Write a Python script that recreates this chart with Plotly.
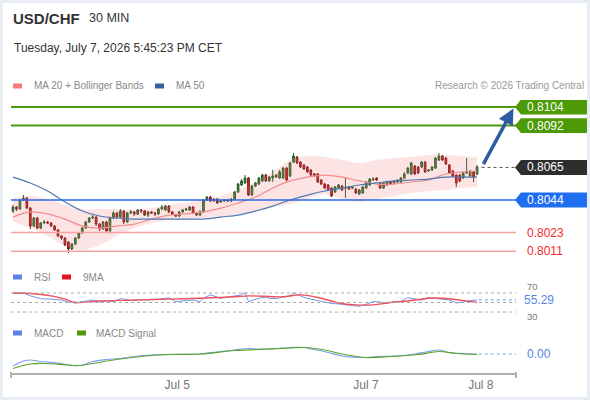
import plotly.graph_objects as go

# ---------------- data ----------------
opens = [0.80369,0.80395,0.80382,0.80440,0.80453,0.80388,0.80272,0.80324,0.80259,0.80292,
         0.80298,0.80292,0.80272,0.80247,0.80208,0.80195,0.80169,0.80124,0.80156,0.80195,
         0.80227,0.80259,0.80298,0.80324,0.80330,0.80285,0.80253,0.80298,0.80240,0.80324,
         0.80356,0.80330,0.80369,0.80298,0.80356,0.80363,0.80350,0.80376,0.80369,0.80343,
         0.80363,0.80356,0.80350,0.80382,0.80376,0.80401,0.80363,0.80343,0.80337,0.80363,
         0.80376,0.80376,0.80395,0.80356,0.80343,0.80363,0.80440,0.80459,0.80434,0.80446,
         0.80427,0.80434,0.80440,0.80434,0.80446,0.80492,0.80537,0.80550,0.80582,0.80472,
         0.80530,0.80543,0.80563,0.80601,0.80563,0.80582,0.80588,0.80582,0.80582,0.80646,
         0.80595,0.80685,0.80717,0.80685,0.80666,0.80653,0.80634,0.80608,0.80608,0.80569,
         0.80543,0.80537,0.80517,0.80492,0.80517,0.80530,0.80517,0.80524,0.80517,0.80511,
         0.80479,0.80485,0.80517,0.80537,0.80569,0.80582,0.80550,0.80517,0.80537,0.80556,
         0.80550,0.80556,0.80556,0.80582,0.80614,0.80608,0.80659,0.80653,0.80653,0.80685,
         0.80627,0.80634,0.80646,0.80698,0.80724,0.80711,0.80666,0.80627,0.80601,0.80601,
         0.80582,0.80614,0.80595,0.80621,0.80608]
highs = [0.80408,0.80401,0.80446,0.80472,0.80459,0.80395,0.80330,0.80330,0.80298,0.80311,
         0.80305,0.80298,0.80279,0.80253,0.80214,0.80201,0.80175,0.80163,0.80201,0.80234,
         0.80266,0.80305,0.80330,0.80343,0.80337,0.80292,0.80305,0.80305,0.80330,0.80369,
         0.80363,0.80382,0.80376,0.80363,0.80376,0.80369,0.80382,0.80382,0.80376,0.80369,
         0.80369,0.80363,0.80388,0.80408,0.80408,0.80408,0.80369,0.80350,0.80369,0.80382,
         0.80388,0.80401,0.80401,0.80363,0.80376,0.80446,0.80466,0.80466,0.80453,0.80453,
         0.80440,0.80446,0.80446,0.80453,0.80498,0.80550,0.80575,0.80601,0.80588,0.80537,
         0.80556,0.80588,0.80608,0.80608,0.80595,0.80634,0.80608,0.80634,0.80653,0.80653,
         0.80685,0.80743,0.80724,0.80692,0.80672,0.80659,0.80640,0.80614,0.80614,0.80575,
         0.80550,0.80543,0.80524,0.80530,0.80543,0.80537,0.80582,0.80530,0.80530,0.80517,
         0.80511,0.80530,0.80563,0.80582,0.80588,0.80588,0.80556,0.80556,0.80563,0.80563,
         0.80569,0.80575,0.80588,0.80621,0.80653,0.80685,0.80666,0.80659,0.80692,0.80692,
         0.80640,0.80659,0.80717,0.80743,0.80730,0.80717,0.80672,0.80634,0.80608,0.80608,
         0.80621,0.80711,0.80634,0.80627,0.80666]
lows = [0.80356,0.80369,0.80376,0.80434,0.80382,0.80253,0.80266,0.80253,0.80253,0.80285,
        0.80285,0.80266,0.80240,0.80201,0.80182,0.80143,0.80098,0.80118,0.80150,0.80188,
        0.80221,0.80253,0.80292,0.80317,0.80272,0.80240,0.80247,0.80234,0.80234,0.80317,
        0.80317,0.80324,0.80285,0.80292,0.80350,0.80337,0.80343,0.80356,0.80337,0.80330,
        0.80350,0.80337,0.80343,0.80376,0.80369,0.80356,0.80343,0.80330,0.80330,0.80356,
        0.80369,0.80369,0.80350,0.80337,0.80337,0.80356,0.80434,0.80427,0.80427,0.80414,
        0.80421,0.80427,0.80427,0.80427,0.80440,0.80485,0.80530,0.80543,0.80466,0.80466,
        0.80524,0.80537,0.80556,0.80556,0.80556,0.80556,0.80582,0.80575,0.80575,0.80563,
        0.80588,0.80679,0.80672,0.80646,0.80634,0.80614,0.80595,0.80595,0.80550,0.80537,
        0.80511,0.80498,0.80459,0.80485,0.80511,0.80498,0.80453,0.80505,0.80511,0.80479,
        0.80472,0.80479,0.80511,0.80530,0.80563,0.80563,0.80511,0.80511,0.80530,0.80537,
        0.80543,0.80550,0.80550,0.80575,0.80608,0.80601,0.80601,0.80608,0.80646,0.80614,
        0.80621,0.80627,0.80640,0.80692,0.80692,0.80666,0.80608,0.80588,0.80524,0.80556,
        0.80575,0.80608,0.80588,0.80556,0.80601]
closes = [0.80395,0.80382,0.80440,0.80453,0.80388,0.80272,0.80324,0.80259,0.80292,0.80298,
          0.80292,0.80272,0.80247,0.80208,0.80195,0.80150,0.80124,0.80156,0.80195,0.80227,
          0.80259,0.80298,0.80324,0.80330,0.80285,0.80253,0.80298,0.80240,0.80324,0.80356,
          0.80330,0.80369,0.80298,0.80356,0.80363,0.80350,0.80376,0.80369,0.80343,0.80363,
          0.80356,0.80350,0.80382,0.80395,0.80401,0.80363,0.80350,0.80337,0.80363,0.80376,
          0.80382,0.80395,0.80356,0.80343,0.80363,0.80440,0.80459,0.80434,0.80446,0.80421,
          0.80434,0.80440,0.80434,0.80446,0.80492,0.80543,0.80563,0.80582,0.80472,0.80530,
          0.80550,0.80582,0.80601,0.80563,0.80588,0.80595,0.80601,0.80621,0.80646,0.80569,
          0.80679,0.80724,0.80679,0.80653,0.80640,0.80621,0.80601,0.80595,0.80556,0.80543,
          0.80517,0.80505,0.80466,0.80524,0.80537,0.80505,0.80520,0.80511,0.80524,0.80485,
          0.80505,0.80524,0.80556,0.80575,0.80575,0.80569,0.80517,0.80550,0.80556,0.80543,
          0.80563,0.80569,0.80582,0.80608,0.80646,0.80679,0.80608,0.80614,0.80685,0.80621,
          0.80634,0.80653,0.80711,0.80724,0.80698,0.80672,0.80614,0.80595,0.80550,0.80563,
          0.80614,0.80621,0.80627,0.80588,0.80653]
candle_idx = list(range(len(closes)))

ind_idx = [0,5,10,15,20,25,30,35,40,45,50,55,60,65,70,75,80,85,90,95,100,105,110,115,120,125,130,134]
ma20 = [0.80330,0.80363,0.80350,0.80317,0.80272,0.80259,0.80272,0.80285,0.80317,0.80343,
        0.80350,0.80363,0.80388,0.80421,0.80459,0.80517,0.80563,0.80588,0.80601,0.80588,
        0.80563,0.80543,0.80543,0.80556,0.80569,0.80608,0.80621,0.80627]
bb_upper = [0.80453,0.80466,0.80446,0.80408,0.80382,0.80382,0.80382,0.80376,0.80388,0.80408,
            0.80421,0.80440,0.80466,0.80505,0.80556,0.80621,0.80698,0.80724,0.80717,0.80698,
            0.80679,0.80698,0.80711,0.80717,0.80730,0.80730,0.80724,0.80717]
bb_lower = [0.80298,0.80259,0.80208,0.80143,0.80118,0.80150,0.80208,0.80259,0.80292,0.80311,
            0.80317,0.80324,0.80330,0.80350,0.80363,0.80395,0.80414,0.80446,0.80479,0.80446,
            0.80427,0.80446,0.80466,0.80485,0.80498,0.80505,0.80517,0.80524]
ma50 = [0.80588,0.80550,0.80498,0.80427,0.80369,0.80337,0.80324,0.80317,0.80317,0.80317,
        0.80317,0.80317,0.80330,0.80343,0.80369,0.80401,0.80440,0.80472,0.80498,0.80517,
        0.80537,0.80550,0.80563,0.80569,0.80575,0.80588,0.80588,0.80588]

rsi_idx = [0,3,5,8,11,14,16,18,21,23,25,27,29,31,34,37,40,42,45,47,50,52,54,55,57,58,60,62,64,66,
           67,68,71,73,74,76,78,80,81,83,84,86,89,92,94,97,100,102,104,106,107,110,112,114,116,118,
           120,122,124,126,128,130,131,134]
rsi = [69,70,64,58,57,55,51,49,53,55,51,53,52,58,55,56,56,57,60,52,54,55,52,59,66,64,59,61.5,64,66,
       71,52,59,61.5,59,58,61.5,64,70,64,61,57,53,48,47,45,42,46,52,51,49,51,52,60,57,55,
       60,59,57,55,49,51,53,55.29]
rsi_ma_idx = [0,5,11,15,18,25,35,45,54,64,68,78,83,89,94,99,104,109,114,120,124,130,134]
rsi_ma = [70,69,64,57,50,53,55,57,59,62,64,62,66,59,49,45,45,50,53,59,59,54,50]

macd_idx = [0,3,5,8,14,17,20,23,27,31,35,40,46,54,59,64,68,71,76,80,84,87,91,95,101,105,111,116,120,123,126,130,134]
macd = [-0.00024,-0.00014,-0.00012,-0.00015,-0.00019,-0.00023,-0.00022,-0.00015,-0.00011,-0.00009,
        -0.00005,-0.00002,-0.00001,0.0,0.00004,0.00008,0.00011,0.00010,0.00011,0.00013,
        0.00013,0.00009,0.00003,-0.00004,-0.00007,-0.00005,-0.00004,0.0,0.00005,0.00008,
        0.00003,0.00001,0.0]
signal_idx = [0,5,9,16,19,23,29,37,44,54,64,71,80,84,90,95,102,109,117,123,128,134]
signal = [-0.00029,-0.00020,-0.00019,-0.00022,-0.00023,-0.00019,-0.00012,-0.00005,-0.00001,0.0,
          0.00007,0.00009,0.00012,0.00013,0.00008,0.0,-0.00007,-0.00005,-0.00001,0.00005,0.00001,-0.00001]

x_tick_vals = [47.4, 101.9, 135.1]
x_tick_text = ["Jul 5", "Jul 7", "Jul 8"]

resistance_levels = [0.8104, 0.8092]
support_level = 0.8044
red_levels = [0.8023, 0.8011]
last_price = 0.8065
rsi_last = 55.29
macd_last = 0.00

# ---------------- layout helpers ----------------
W, H = 590, 400
FONT = "Liberation Sans, Arial, sans-serif"
def px(x):
    return x / W
def py(y):
    return 1 - y / H

X_LEFT, X_RIGHT = 11, 516
x_range = [-0.58, 145.25]

fig = go.Figure()

# Bollinger band fill
fig.add_trace(go.Scatter(x=ind_idx, y=bb_lower, mode="lines", line=dict(width=0, shape="spline"),
                         hoverinfo="skip", showlegend=False, yaxis="y"))
fig.add_trace(go.Scatter(x=ind_idx, y=bb_upper, mode="lines", line=dict(width=0, shape="spline"),
                         fill="tonexty", fillcolor="rgba(245,120,120,0.2)",
                         hoverinfo="skip", showlegend=False, yaxis="y"))
fig.add_trace(go.Scatter(x=ind_idx, y=ma20, mode="lines",
                         line=dict(color="#f38b8b", width=1.2, shape="spline"), showlegend=False, yaxis="y"))
fig.add_trace(go.Scatter(x=ind_idx, y=ma50, mode="lines",
                         line=dict(color="#4c78b5", width=1.2, shape="spline"), showlegend=False, yaxis="y"))

fig.add_trace(go.Candlestick(
    x=candle_idx, open=opens, high=highs, low=lows, close=closes,
    increasing=dict(line=dict(color="#1f5a22", width=1), fillcolor="#3a8c3e"),
    decreasing=dict(line=dict(color="#7a1414", width=1), fillcolor="#e3201b"),
    showlegend=False, yaxis="y", whiskerwidth=0))

# RSI
fig.add_trace(go.Scatter(x=rsi_idx, y=rsi, mode="lines", line=dict(color="#7196ea", width=1),
                         showlegend=False, yaxis="y2"))
fig.add_trace(go.Scatter(x=rsi_ma_idx, y=rsi_ma, mode="lines",
                         line=dict(color="#f0505a", width=1.4, shape="spline"), showlegend=False, yaxis="y2"))
# MACD
fig.add_trace(go.Scatter(x=macd_idx, y=macd, mode="lines",
                         line=dict(color="#7c9ff0", width=1.2, shape="spline"), showlegend=False, yaxis="y3"))
fig.add_trace(go.Scatter(x=signal_idx, y=signal, mode="lines",
                         line=dict(color="#5ea32c", width=1.2, shape="spline"), showlegend=False, yaxis="y3"))

shapes = []
annotations = []

# frame
shapes.append(dict(type="rect", xref="paper", yref="paper", x0=0, x1=1, y0=0, y1=1,
                   line=dict(color="#e8edf4", width=6), layer="above"))

# level lines
for lv in resistance_levels:
    shapes.append(dict(type="line", xref="x domain", yref="y", x0=0, x1=1, y0=lv, y1=lv,
                       line=dict(color="#4d9a10", width=2)))
shapes.append(dict(type="line", xref="x domain", yref="y", x0=0, x1=1, y0=support_level, y1=support_level,
                   line=dict(color="#2a6ae8", width=1.5)))
for lv in red_levels:
    shapes.append(dict(type="line", xref="x domain", yref="y", x0=0, x1=1, y0=lv, y1=lv,
                       line=dict(color="#f6a3a3", width=1.5)))
shapes.append(dict(type="line", xref="x", yref="y", x0=len(closes) + 0.3, x1=x_range[1],
                   y0=last_price, y1=last_price, line=dict(color="#555555", width=1, dash="dot")))

# label boxes with notch
half = 0.00048
def label_box(level, color):
    xs = [px(515), px(521), px(587)]
    path = (f"M {xs[0]},{level} L {xs[1]},{level + half} L {xs[2]},{level + half} "
            f"L {xs[2]},{level - half} L {xs[1]},{level - half} Z")
    shapes.append(dict(type="path", xref="paper", yref="y", path=path,
                       fillcolor=color, line=dict(width=0)))
    annotations.append(dict(xref="paper", yref="y", x=px(525), y=level, xanchor="left", yanchor="middle",
                            text=f"{level:.4f}", showarrow=False,
                            font=dict(family=FONT, size=12, color="white")))

for lv in resistance_levels:
    label_box(lv, "#4b9a06")
label_box(last_price, "#2e2e2e")
label_box(support_level, "#1f6ef0")
for lv in red_levels:
    annotations.append(dict(xref="paper", yref="y", x=px(525), y=lv, xanchor="left", yanchor="middle",
                            text=f"{lv:.4f}", showarrow=False,
                            font=dict(family=FONT, size=12, color="#f22a2a")))

# arrow toward target
annotations.append(dict(xref="x", yref="y", axref="x", ayref="y",
                        x=len(closes) + 9.5, y=resistance_levels[0] - 0.0001,
                        ax=len(closes) + 0.6, ay=last_price + 0.00012,
                        text="", showarrow=True, arrowhead=2, arrowsize=0.9,
                        arrowwidth=3.5, arrowcolor="#2d5d9e"))

# RSI guide lines
for lv in [70, 50, 30]:
    shapes.append(dict(type="line", xref="x domain", yref="y2", x0=0, x1=1, y0=lv, y1=lv,
                       line=dict(color="#a8a8a8", width=1, dash="dot")))
shapes.append(dict(type="line", xref="x", yref="y2", x0=rsi_idx[-1] + 0.5, x1=x_range[1],
                   y0=rsi_last, y1=rsi_last, line=dict(color="#7196ea", width=1, dash="dot")))
shapes.append(dict(type="line", xref="x", yref="y3", x0=macd_idx[-1] + 0.5, x1=x_range[1],
                   y0=macd_last, y1=macd_last, line=dict(color="#7c9ff0", width=1, dash="dot")))

annotations.append(dict(xref="paper", yref="y2", x=px(525), y=70, xanchor="left", yanchor="middle",
                        text="70", showarrow=False, yshift=6,
                        font=dict(family=FONT, size=9.5, color="#777777")))
annotations.append(dict(xref="paper", yref="y2", x=px(525), y=30, xanchor="left", yanchor="middle",
                        text="30", showarrow=False, yshift=-4,
                        font=dict(family=FONT, size=9.5, color="#777777")))
annotations.append(dict(xref="paper", yref="y2", x=px(523), y=rsi_last, xanchor="left", yanchor="middle",
                        text=f"{rsi_last:.2f}", showarrow=False, bgcolor="white", borderpad=0,
                        font=dict(family=FONT, size=12, color="#5b86e6")))
annotations.append(dict(xref="paper", yref="y3", x=px(525), y=macd_last, xanchor="left", yanchor="middle",
                        text=f"{macd_last:.2f}", showarrow=False,
                        font=dict(family=FONT, size=12, color="#5b86e6")))

# axis end caps
for xe in [X_LEFT, X_RIGHT]:
    shapes.append(dict(type="line", xref="paper", yref="paper", x0=px(xe), x1=px(xe),
                       y0=py(372), y1=py(378), line=dict(color="#b0b0b0", width=2)))

# header texts
def text(x, y, s, size, color, bold=False, anchor="left"):
    annotations.append(dict(xref="paper", yref="paper", x=px(x), y=py(y), xanchor=anchor, yanchor="middle",
                            text=f"<b>{s}</b>" if bold else s, showarrow=False,
                            font=dict(family=FONT, size=size, color=color)))

text(11, 18, "USD/CHF", 15, "#333333", bold=True)
text(87, 18, "30 MIN", 12.5, "#333333")
text(12, 48, "Tuesday, July 7, 2026 5:45:23 PM CET", 12, "#333333")
text(586, 86, "Research © 2026 Trading Central", 10, "#9a9a9a", anchor="right")

def swatch(x0, y, color, w=9):
    shapes.append(dict(type="rect", xref="paper", yref="paper", x0=px(x0), x1=px(x0 + w),
                       y0=py(y + 2.5), y1=py(y - 2.5), fillcolor=color, line=dict(width=0)))

swatch(13, 86, "#f77b7b")
text(32, 86, "MA 20 + Bollinger Bands", 10, "#888888")
swatch(155, 86, "#3a5f9f")
text(174, 86, "MA 50", 10, "#888888")

swatch(13, 277, "#5b82e3")
text(32, 277, "RSI", 10, "#888888")
swatch(62, 277, "#e8141c")
text(81, 277, "9MA", 10, "#888888")

swatch(13, 333, "#5b82e3")
text(32, 333, "MACD", 10, "#888888")
swatch(77, 333, "#4e9a06")
text(94, 333, "MACD Signal", 10, "#888888")

fig.update_layout(
    width=W, height=H,
    margin=dict(l=0, r=0, t=0, b=0),
    paper_bgcolor="white", plot_bgcolor="rgba(0,0,0,0)",
    showlegend=False,
    font=dict(family=FONT),
    xaxis=dict(domain=[px(X_LEFT), px(X_RIGHT)], range=x_range, anchor="y3",
               showline=True, linecolor="#b0b0b0", linewidth=2,
               tickvals=x_tick_vals, ticktext=x_tick_text, ticks="",
               tickfont=dict(family=FONT, size=12, color="#777777"),
               showgrid=False, zeroline=False, rangeslider=dict(visible=False), fixedrange=True),
    yaxis=dict(domain=[py(258), py(100)], range=[0.80066, 0.81085], visible=False, fixedrange=True),
    yaxis2=dict(domain=[py(320), py(285)], range=[13.2, 86.8], visible=False, fixedrange=True, anchor="x"),
    yaxis3=dict(domain=[py(373), py(340)], range=[-0.00038, 0.00028], visible=False, fixedrange=True, anchor="x"),
    shapes=shapes,
    annotations=annotations,
)

fig.write_html("out.html", config={"displayModeBar": False},
               post_script="document.body.style.margin='0';document.body.style.overflow='hidden';")
